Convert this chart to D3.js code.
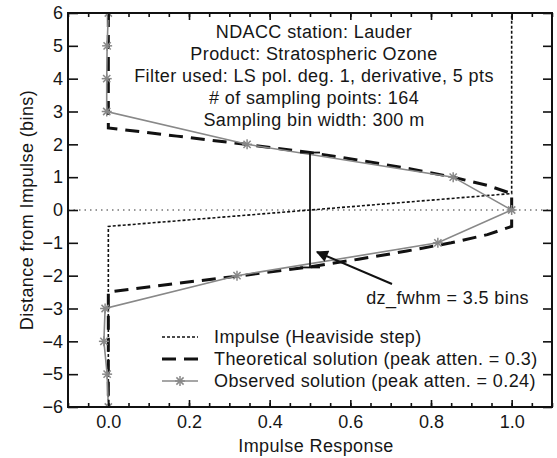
<!DOCTYPE html>
<html lang="en">
<head>
<meta charset="UTF-8">
<title>Impulse Response</title>
<style>
  body { margin: 0; background: #fff; }
  svg text { font-family: "Liberation Sans", Arial, sans-serif; fill: #161616; font-size: 18px; }
  .wide { letter-spacing: 0.4px; }
  .axis path { display: none; }
  .axis line { stroke: #111; stroke-width: 1.6; }
  .axis text { font-size: 18px; }
</style>
</head>
<body>
<svg width="557" height="458"></svg>
<script src="https://d3js.org/d3.v7.min.js"></script>
<script>

  // ---- data ----
  var binLevels = [6, 5, 4, 3, 2, 1, 0, -1, -2, -3, -4, -5, -6];
  var observedResponse = [0.0, -0.003, -0.004, -0.004, 0.344, 0.855, 1.0, 0.817, 0.319, -0.008, -0.011, -0.003, 0.0];

  var theoryBins = [6, 2.5, 2.25, 2.0, 1.75, 1.5, 1.25, 1.0, 0.75, 0.5, -0.5, -0.75, -1.0, -1.25, -1.5, -1.75, -2.0, -2.25, -2.5, -6];
  var theoryResponse = [0, 0, 0.17, 0.34, 0.5, 0.63, 0.75, 0.855, 0.94, 1.0, 1.0, 0.94, 0.85, 0.74, 0.62, 0.49, 0.33, 0.16, 0, 0];

  var impulseBins = [-6, -0.5, 0.5, 6];
  var impulseResponse = [0, 0, 1, 1];

  var fwhmResponse = 0.5;
  var fwhmBins = [1.75, -1.75];

  var xTicks = [0.0, 0.2, 0.4, 0.6, 0.8, 1.0];
  var xMinorTicks = d3.range(-0.1, 1.1001, 0.05);
  var yTicks = [-6, -5, -4, -3, -2, -1, 0, 1, 2, 3, 4, 5, 6];

  var infoLines = [
    "NDACC station: Lauder",
    "Product: Stratospheric Ozone",
    "Filter used: LS pol. deg. 1, derivative, 5 pts",
    "# of sampling points: 164",
    "Sampling bin width: 300 m"
  ];
  var legendLabels = [
    "Impulse (Heaviside step)",
    "Theoretical solution (peak atten. = 0.3)",
    "Observed solution (peak atten. = 0.24)"
  ];

  // ---- layout ----
  var frame = {left: 68, right: 552, top: 13, bottom: 407};
  var svg = d3.select("svg");

  var responseToX = d3.scaleLinear().domain([-0.1, 1.1]).range([frame.left, frame.right]);
  var binToY = d3.scaleLinear().domain([-6, 6]).range([frame.bottom, frame.top]);

  var plot = svg.append("g");

  var clipId = "plotclip";
  svg.append("clipPath").attr("id", clipId)
    .append("rect")
    .attr("x", frame.left).attr("y", frame.top)
    .attr("width", frame.right - frame.left).attr("height", frame.bottom - frame.top);

  var marks = plot.append("g").attr("clip-path", "url(#" + clipId + ")");

  // zero line
  marks.append("line")
    .attr("x1", frame.left).attr("x2", frame.right)
    .attr("y1", binToY(0)).attr("y2", binToY(0))
    .attr("stroke", "#777").attr("stroke-width", 1.3)
    .attr("stroke-dasharray", "1.5,4");

  var pathOf = function(xs, ys) {
    return d3.line()
      .x(function(d, i) { return responseToX(xs[i]); })
      .y(function(d, i) { return binToY(ys[i]); })(ys);
  };

  // impulse
  marks.append("path")
    .attr("d", pathOf(impulseResponse, impulseBins))
    .attr("fill", "none").attr("stroke", "#111")
    .attr("stroke-width", 1.6).attr("stroke-dasharray", "3,2");

  // theoretical
  marks.append("path")
    .attr("d", pathOf(theoryResponse, theoryBins))
    .attr("fill", "none").attr("stroke", "#111")
    .attr("stroke-width", 3).attr("stroke-dasharray", "14,8");

  // observed
  marks.append("path")
    .attr("d", pathOf(observedResponse, binLevels))
    .attr("fill", "none").attr("stroke", "#888")
    .attr("stroke-width", 1.6);

  var star = function(g, cx, cy, r, color) {
    var k = r * 0.72;
    [[-r, 0, r, 0], [0, -r, 0, r], [-k, -k, k, k], [-k, k, k, -k]].forEach(function(s) {
      g.append("line")
        .attr("x1", cx + s[0]).attr("y1", cy + s[1])
        .attr("x2", cx + s[2]).attr("y2", cy + s[3])
        .attr("stroke", color).attr("stroke-width", 1.5);
    });
  };

  binLevels.forEach(function(b, i) {
    star(marks, responseToX(observedResponse[i]), binToY(b), 5, "#888");
  });

  // fwhm marker
  var fx = responseToX(fwhmResponse);
  plot.append("line")
    .attr("x1", fx).attr("x2", fx)
    .attr("y1", binToY(fwhmBins[0])).attr("y2", binToY(fwhmBins[1]))
    .attr("stroke", "#111").attr("stroke-width", 1.8);
  fwhmBins.forEach(function(b) {
    plot.append("line")
      .attr("x1", fx - 10).attr("x2", fx + 10)
      .attr("y1", binToY(b)).attr("y2", binToY(b))
      .attr("stroke", "#111").attr("stroke-width", 1.8);
  });

  // arrow
  svg.append("defs").append("marker")
    .attr("id", "head").attr("viewBox", "0 0 10 10")
    .attr("refX", 9).attr("refY", 5)
    .attr("markerWidth", 7).attr("markerHeight", 6)
    .attr("markerUnits", "strokeWidth")
    .attr("orient", "auto")
    .append("path").attr("d", "M0,0 L10,5 L0,10 z").attr("fill", "#111");

  plot.append("line")
    .attr("x1", 392).attr("y1", 284)
    .attr("x2", 317).attr("y2", 252)
    .attr("stroke", "#111").attr("stroke-width", 2)
    .attr("marker-end", "url(#head)");

  plot.append("text")
    .attr("class", "wide")
    .attr("x", 529).attr("y", 304)
    .attr("text-anchor", "end")
    .text("dz_fwhm = 3.5 bins");

  // info block
  plot.selectAll(".info")
    .data(infoLines)
    .enter().append("text")
    .attr("class", "info wide")
    .attr("x", 314)
    .attr("y", function(d, i) { return 38 + i * 22; })
    .attr("text-anchor", "middle")
    .text(function(d) { return d; });

  // legend
  var legend = plot.append("g");
  legendLabels.forEach(function(label, i) {
    var ly = 337 + i * 22;
    var line = legend.append("line")
      .attr("x1", 162).attr("x2", 198)
      .attr("y1", ly).attr("y2", ly);
    if (i === 0) {
      line.attr("stroke", "#111").attr("stroke-width", 1.6).attr("stroke-dasharray", "3,2");
    } else if (i === 1) {
      line.attr("stroke", "#111").attr("stroke-width", 3).attr("stroke-dasharray", "14,8");
    } else {
      line.attr("stroke", "#888").attr("stroke-width", 1.6);
      star(legend, 180, ly, 5, "#888");
    }
    legend.append("text")
      .attr("class", "wide")
      .attr("x", 214).attr("y", ly + 6)
      .text(label);
  });

  // axes
  var xAxis = d3.axisBottom(responseToX).tickValues(xTicks).tickSize(-7).tickPadding(8)
    .tickFormat(d3.format(".1f"));
  plot.append("g").attr("class", "axis")
    .attr("transform", "translate(0," + frame.bottom + ")")
    .call(xAxis);
  plot.append("g").attr("class", "axis")
    .attr("transform", "translate(0," + frame.bottom + ")")
    .call(d3.axisBottom(responseToX).tickValues(xMinorTicks).tickSize(-4).tickFormat(""));
  plot.append("g").attr("class", "axis")
    .attr("transform", "translate(0," + frame.top + ")")
    .call(d3.axisTop(responseToX).tickValues(xTicks).tickSize(-7).tickFormat(""));
  plot.append("g").attr("class", "axis")
    .attr("transform", "translate(0," + frame.top + ")")
    .call(d3.axisTop(responseToX).tickValues(xMinorTicks).tickSize(-4).tickFormat(""));

  plot.append("g").attr("class", "axis")
    .attr("transform", "translate(" + frame.left + ",0)")
    .call(d3.axisLeft(binToY).tickValues(yTicks).tickSize(-10).tickPadding(5).tickFormat(d3.format("d")));
  plot.append("g").attr("class", "axis")
    .attr("transform", "translate(" + frame.right + ",0)")
    .call(d3.axisRight(binToY).tickValues(yTicks).tickSize(-9).tickFormat(""));

  // frame
  plot.append("rect")
    .attr("x", frame.left).attr("y", frame.top)
    .attr("width", frame.right - frame.left).attr("height", frame.bottom - frame.top)
    .attr("fill", "none").attr("stroke", "#111").attr("stroke-width", 2);

  // axis titles
  svg.append("text")
    .attr("class", "wide")
    .attr("x", 316).attr("y", 452)
    .attr("text-anchor", "middle")
    .text("Impulse Response");

  svg.append("text")
    .attr("class", "wide")
    .attr("transform", "translate(33," + ((frame.top + frame.bottom) / 2) + ") rotate(-90)")
    .attr("text-anchor", "middle")
    .text("Distance from Impulse (bins)");

</script>
</body>
</html>
